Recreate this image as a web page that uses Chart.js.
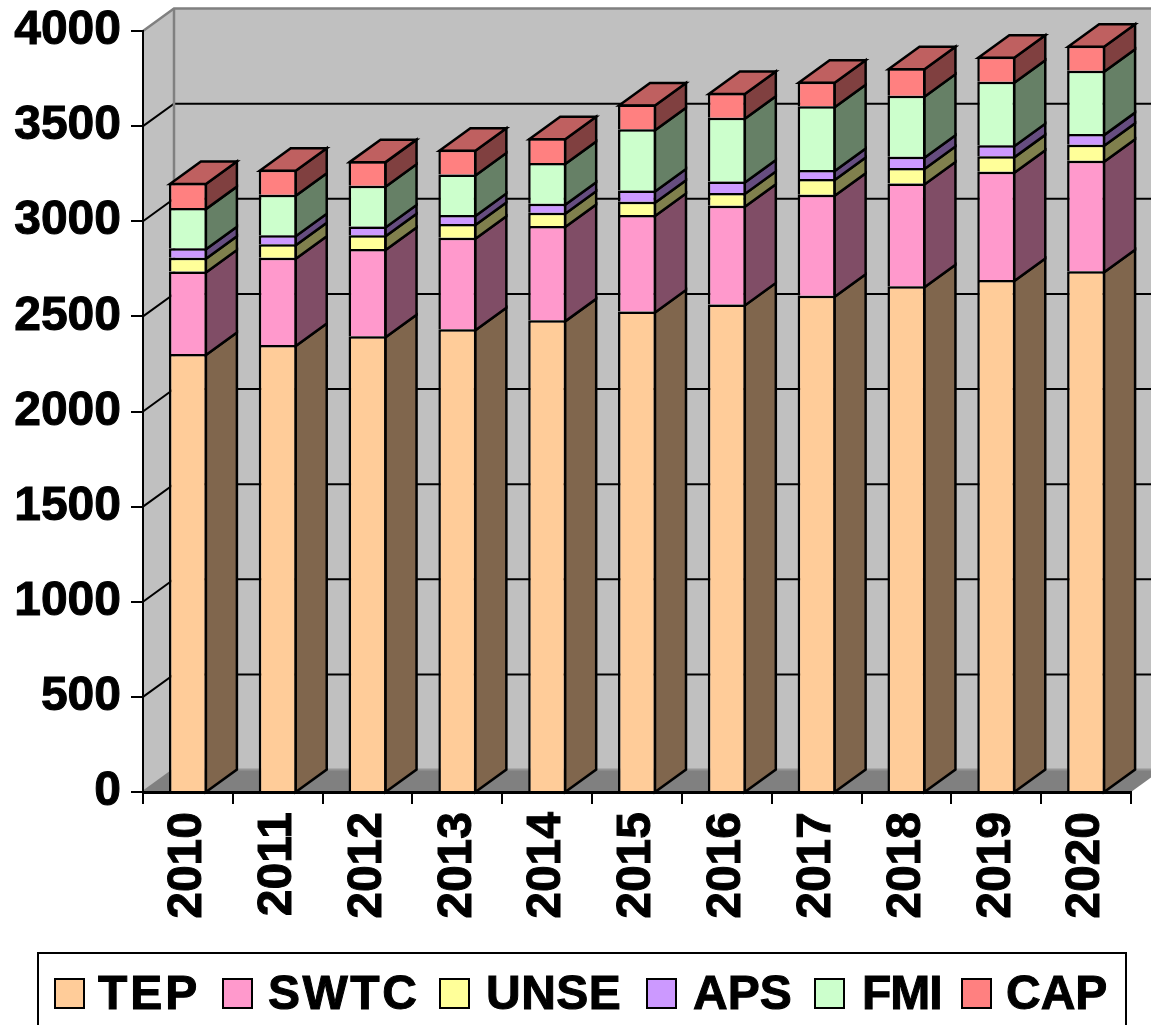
<!DOCTYPE html>
<html>
<head>
<meta charset="utf-8">
<title>Stacked peak demand</title>
<script src="https://cdn.jsdelivr.net/npm/chart.js@4/dist/chart.umd.min.js"></script>
<style>
  html, body { margin: 0; padding: 0; background: #fff; overflow: hidden; }
  #wrap { position: relative; width: 1151px; height: 1025px; overflow: hidden; }
  #legend {
    position: absolute; left: 37px; top: 952px; width: 1086px; height: 100px;
    border: 2px solid #000; box-sizing: content-box;
    font: bold 48px "Liberation Sans", Arial, sans-serif; color: #000;
    -webkit-text-stroke: 1px #000;
  }
  #legend .box { position: absolute; width: 27px; height: 27px; border: 2px solid #000; }
  #legend .txt { position: absolute; line-height: 54px; white-space: nowrap; }
</style>
</head>
<body>
<div id="wrap">
  <canvas id="chart" width="1151" height="1025"></canvas>
  <div id="legend"></div>
</div>
<script>
const years = ['2010','2011','2012','2013','2014','2015','2016','2017','2018','2019','2020'];

const tep  = [2302, 2349, 2395, 2432, 2479, 2526, 2563, 2608, 2658, 2691, 2737];
const swtc = [434, 459, 459, 481, 496, 507, 518, 531, 541, 569, 581];
const unse = [72, 71, 72, 72, 70, 69, 68, 83, 81, 81, 84];
const aps  = [50, 48, 47, 48, 47, 60, 60, 47, 59, 59, 56];
const fmi  = [211, 212, 214, 213, 214, 321, 335, 335, 321, 333, 333];
const cap  = [132, 132, 129, 130, 130, 131, 130, 129, 144, 132, 132];

const seriesNames  = ['TEP', 'SWTC', 'UNSE', 'APS', 'FMI', 'CAP'];
const seriesValues = [tep, swtc, unse, aps, fmi, cap];
const seriesColors = ['#FFCC99', '#FF99CC', '#FFFF99', '#CC99FF', '#CCFFCC', '#FF8080'];

const yTicks = [0, 500, 1000, 1500, 2000, 2500, 3000, 3500, 4000];

// legend slots: swatch x, text x, letter spacing
const legendSwatchX = [54, 222, 439, 646, 814, 961];
const legendTextX   = [98, 268, 486, 693, 862, 1006];
const legendSpacing = [3, 2.5, 0.5, 0, -1, 0];

const DEPTH_X = 31;
const DEPTH_Y = 22.5;
const FONT = '"Liberation Sans", Arial, sans-serif';

function shade(hex, f) {
  const n = parseInt(hex.slice(1), 16);
  const r = Math.round(((n >> 16) & 255) * f);
  const g = Math.round(((n >> 8) & 255) * f);
  const b = Math.round((n & 255) * f);
  return `rgb(${r},${g},${b})`;
}

function poly(ctx, pts, fill, stroke, lw) {
  ctx.beginPath();
  pts.forEach((p, i) => (i ? ctx.lineTo(p[0], p[1]) : ctx.moveTo(p[0], p[1])));
  ctx.closePath();
  if (fill) { ctx.fillStyle = fill; ctx.fill(); }
  if (stroke) { ctx.strokeStyle = stroke; ctx.lineWidth = lw || 2; ctx.stroke(); }
}

// back wall, side wall, floor and gridlines of the fake 3d box
const wallsPlugin = {
  id: 'walls',
  beforeDraw(chart) {
    const { ctx, chartArea: a, scales } = chart;
    const x0 = a.left, x1 = a.right, t = a.top, b = a.bottom;
    ctx.save();
    poly(ctx, [[x0, t], [x0 + DEPTH_X, t - DEPTH_Y], [x0 + DEPTH_X, b - DEPTH_Y], [x0, b]], '#c0c0c0');
    poly(ctx, [[x0 + DEPTH_X, t - DEPTH_Y], [x1 + DEPTH_X, t - DEPTH_Y], [x1 + DEPTH_X, b - DEPTH_Y], [x0 + DEPTH_X, b - DEPTH_Y]], '#c0c0c0');
    poly(ctx, [[x0, b], [x0 + DEPTH_X, b - DEPTH_Y], [x1 + DEPTH_X, b - DEPTH_Y], [x1, b]], '#808080');

    yTicks.forEach(v => {
      const y = scales.y.getPixelForValue(v);
      const edge = v === 0 || v === 4000;
      ctx.beginPath();
      ctx.moveTo(x0, y);
      ctx.lineTo(x0 + DEPTH_X, y - DEPTH_Y);
      if (v !== 0) ctx.lineTo(x1 + DEPTH_X, y - DEPTH_Y);
      ctx.strokeStyle = edge ? '#808080' : '#000';
      ctx.lineWidth = edge ? 2.5 : 2;
      ctx.stroke();
    });

    ctx.beginPath();
    ctx.moveTo(x0 + DEPTH_X, t - DEPTH_Y);
    ctx.lineTo(x0 + DEPTH_X, b - DEPTH_Y);
    ctx.strokeStyle = '#808080';
    ctx.lineWidth = 2.5;
    ctx.stroke();

    ctx.beginPath();
    ctx.moveTo(x0 + DEPTH_X, b - DEPTH_Y);
    ctx.lineTo(x1 + DEPTH_X, b - DEPTH_Y);
    ctx.strokeStyle = '#969696';
    ctx.lineWidth = 2;
    ctx.stroke();
    ctx.restore();
  }
};

// side and top faces of each bar, taken from the bar elements
const depthPlugin = {
  id: 'barDepth',
  beforeDatasetsDraw(chart) {
    const { ctx } = chart;
    ctx.save();
    ctx.lineJoin = 'miter';
    chart.data.datasets.forEach((ds, di) => {
      const color = seriesColors[di];
      chart.getDatasetMeta(di).data.forEach(bar => {
        const right = bar.x + bar.width / 2 - 1;
        const left = bar.x - bar.width / 2 + 1;
        const top = bar.y + 1;
        const bottom = bar.base + 1;
        poly(ctx, [
          [right, top],
          [right + DEPTH_X, top - DEPTH_Y],
          [right + DEPTH_X, bottom - DEPTH_Y],
          [right, bottom]
        ], shade(color, 0.5), '#000', 2.5);
        if (di === seriesNames.length - 1) {
          poly(ctx, [
            [left, top],
            [left + DEPTH_X, top - DEPTH_Y],
            [right + DEPTH_X, top - DEPTH_Y],
            [right, top]
          ], shade(color, 0.75), '#000', 2.5);
        }
      });
    });
    ctx.restore();
  }
};

function buildLegend() {
  const el = document.getElementById('legend');
  seriesNames.forEach((name, i) => {
    const box = document.createElement('div');
    box.className = 'box';
    box.style.left = (legendSwatchX[i] - 39) + 'px';
    box.style.top = '24px';
    box.style.background = seriesColors[i];
    const txt = document.createElement('div');
    txt.className = 'txt';
    txt.style.left = (legendTextX[i] - 39) + 'px';
    txt.style.top = '12px';
    txt.style.letterSpacing = legendSpacing[i] + 'px';
    txt.textContent = name;
    el.appendChild(box);
    el.appendChild(txt);
  });
}

const datasets = seriesNames.map((name, i) => ({
  label: name,
  data: seriesValues[i],
  backgroundColor: seriesColors[i],
  borderColor: '#000',
  borderWidth: 2.5,
  barPercentage: 0.423,
  categoryPercentage: 1
}));

new Chart(document.getElementById('chart').getContext('2d'), {
  type: 'bar',
  data: { labels: years, datasets },
  plugins: [wallsPlugin, depthPlugin],
  options: {
    responsive: false,
    animation: false,
    layout: { padding: { top: 31, right: 20, left: 0, bottom: 0 } },
    plugins: { legend: { display: false }, tooltip: { enabled: false } },
    scales: {
      x: {
        stacked: true,
        afterFit(s) { s.height = 233; s.paddingLeft = 0; s.paddingRight = 0; },
        grid: { drawOnChartArea: false, color: '#000', lineWidth: 2, tickLength: 12 },
        border: { color: '#000', width: 3, z: 1 },
        ticks: {
          color: '#000',
          font: { family: FONT, size: 48, weight: 'bold' },
          textStrokeColor: '#000',
          textStrokeWidth: 1,
          minRotation: 90,
          maxRotation: 90,
          padding: 8,
          autoSkip: false
        }
      },
      y: {
        stacked: true,
        min: 0,
        max: 4000,
        afterFit(s) { s.width = 143; s.paddingTop = 0; s.paddingBottom = 0; },
        grid: { drawOnChartArea: false, color: '#000', lineWidth: 2, tickLength: 12 },
        border: { color: '#000', width: 2 },
        ticks: {
          stepSize: 500,
          color: '#000',
          font: { family: FONT, size: 48, weight: 'bold' },
          textStrokeColor: '#000',
          textStrokeWidth: 1,
          padding: 10,
          callback: v => String(v)
        }
      }
    }
  }
});

buildLegend();
</script>
</body>
</html>
